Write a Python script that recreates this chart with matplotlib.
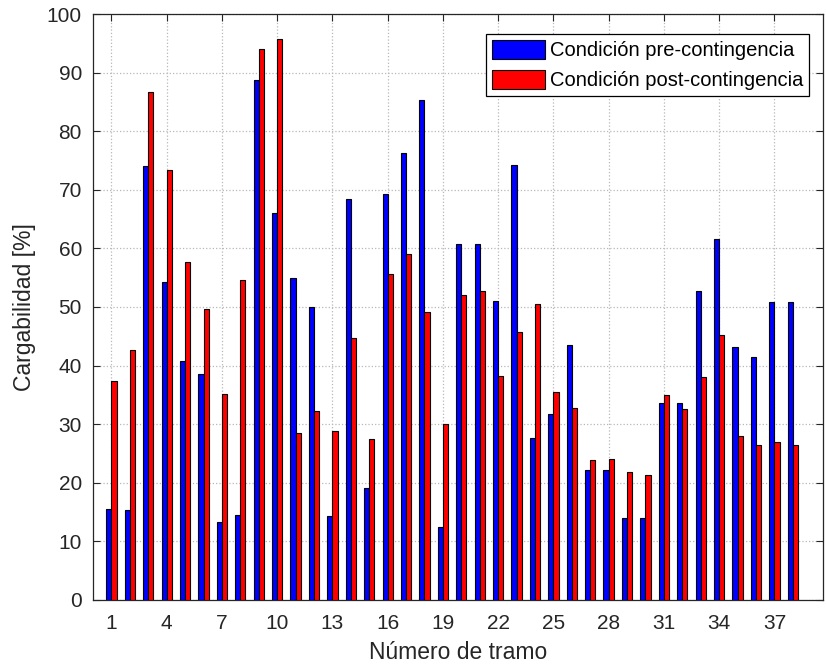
import numpy as np
import matplotlib.pyplot as plt

plt.rcParams['font.family'] = ['Liberation Sans', 'DejaVu Sans']

# Cargabilidad por tramo, antes y después de la contingencia
tramos = np.arange(1, 39)
pre = [15.5, 15.4, 74.1, 54.2, 40.7, 38.5, 13.3, 14.5, 88.8, 66.0,
       54.9, 50.0, 14.4, 68.5, 19.1, 69.2, 76.2, 85.4, 12.4, 60.7,
       60.7, 51.1, 74.3, 27.6, 31.8, 43.5, 22.1, 22.1, 14.0, 14.0,
       33.6, 33.6, 52.7, 61.6, 43.1, 41.5, 50.9, 50.9]
post = [37.3, 42.6, 86.7, 73.4, 57.6, 49.6, 35.1, 54.6, 94.0, 95.7,
        28.5, 32.3, 28.8, 44.7, 27.5, 55.6, 59.0, 49.2, 30.0, 52.0,
        52.7, 38.3, 45.8, 50.5, 35.5, 32.8, 23.9, 24.0, 21.9, 21.3,
        35.0, 32.6, 38.1, 45.2, 27.9, 26.4, 27.0, 26.5]
xticks = np.arange(1, 39, 3)
yticks = np.arange(0, 101, 10)

fig = plt.figure(figsize=(8.26, 6.70), dpi=100)
ax = fig.add_axes([0.1126, 0.1045, 0.884, 0.8746])

w = 0.28
ax.bar(tramos - w / 2, pre, width=w, color='#0000ff', edgecolor='black',
       linewidth=0.8, label='Condición pre-contingencia', zorder=3)
ax.bar(tramos + w / 2, post, width=w, color='#ff0000', edgecolor='black',
       linewidth=0.8, label='Condición post-contingencia', zorder=3)

ax.set_xlim(0, 39.65)
ax.set_ylim(0, 100)
ax.set_xticks(xticks)
ax.set_yticks(yticks)
ax.tick_params(direction='in', length=5, width=0.8, labelsize=15,
               top=True, right=True, colors='#262626')
ax.tick_params(axis='x', pad=10)
ax.tick_params(axis='y', pad=8)
ax.grid(True, linestyle=':', color='#b8b8b8', linewidth=0.9, zorder=0)
for s in ax.spines.values():
    s.set_color('#262626')
    s.set_linewidth(0.9)

ax.set_xlabel('Número de tramo', fontsize=16.5, color='#262626', labelpad=6)
ax.set_ylabel('Cargabilidad [%]', fontsize=16.5, color='#262626', labelpad=8)

leg = ax.legend(loc='upper right', bbox_to_anchor=(0.9805, 0.966),
                fontsize=14.5, fancybox=False, edgecolor='black',
                framealpha=1, handlelength=2.6, handleheight=1.1,
                borderpad=0.3, labelspacing=0.45, handletextpad=0.25,
                borderaxespad=0)
leg.get_frame().set_linewidth(0.9)

fig.savefig('out.png', dpi=100)
